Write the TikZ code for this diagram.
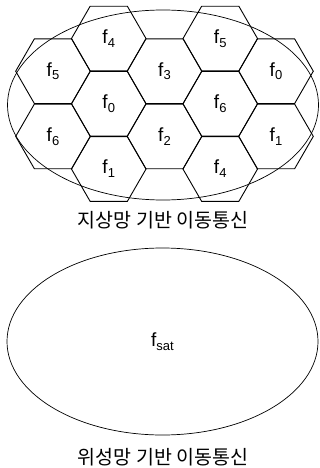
\documentclass[tikz,border=0pt]{standalone}
\usepackage{fontspec}
\setmainfont{Liberation Sans}
\newfontfamily\kr{Noto Sans CJK KR}
\usetikzlibrary{shapes.geometric, positioning}
\newcommand{\fsub}[1]{\raisebox{-3.8pt}{\fontsize{13}{13}\selectfont #1}}
\tikzset{
  cell/.style    = {regular polygon, regular polygon sides=6, draw=black,
                    minimum size=74.6pt, inner sep=0pt, outer sep=0pt,
                    line width=0.9pt, font=\fontsize{19}{19}\selectfont},
  zone/.style    = {ellipse, draw=black, inner sep=0pt, outer sep=0pt,
                    line width=0.7pt, font=\fontsize{19}{19}\selectfont},
  areacap/.style = {inner sep=0pt, font=\kr\fontsize{19.5}{20}\selectfont},
}
\begin{document}
\begin{tikzpicture}[x=1pt, y=-1pt]
  \useasboundingbox (0,0) rectangle (320,468);

  % terrestrial cells, column by column
  \node[cell] (c11) at (53,71.2)     {f\fsub{5}};
  \node[cell] (c12) at (53,136.4)    {f\fsub{6}};
  \node[cell] (c21) at (108.75,38.6) {f\fsub{4}};
  \node[cell] (c22) at (108.75,103.8){f\fsub{0}};
  \node[cell] (c23) at (108.75,169)  {f\fsub{1}};
  \node[cell] (c31) at (164.5,71.2)  {f\fsub{3}};
  \node[cell] (c32) at (164.5,136.4) {f\fsub{2}};
  \node[cell] (c41) at (220.25,38.6) {f\fsub{5}};
  \node[cell] (c42) at (220.25,103.8){f\fsub{6}};
  \node[cell] (c43) at (220.25,169)  {f\fsub{4}};
  \node[cell] (c51) at (276,71.2)    {f\fsub{0}};
  \node[cell] (c52) at (276,136.4)   {f\fsub{1}};

  % service areas
  \node[zone, minimum width=311pt, minimum height=190pt] (terr) at (163,105) {};
  \node[areacap] (terrcap) at (163,220) {지상망 기반 이동통신};

  \node[zone, minimum width=311pt, minimum height=187pt] (sat) at (162.5,341.5) {f\fsub{sat}};
  \node[areacap] (satcap) at (163,457) {위성망 기반 이동통신};

\end{tikzpicture}
\end{document}
